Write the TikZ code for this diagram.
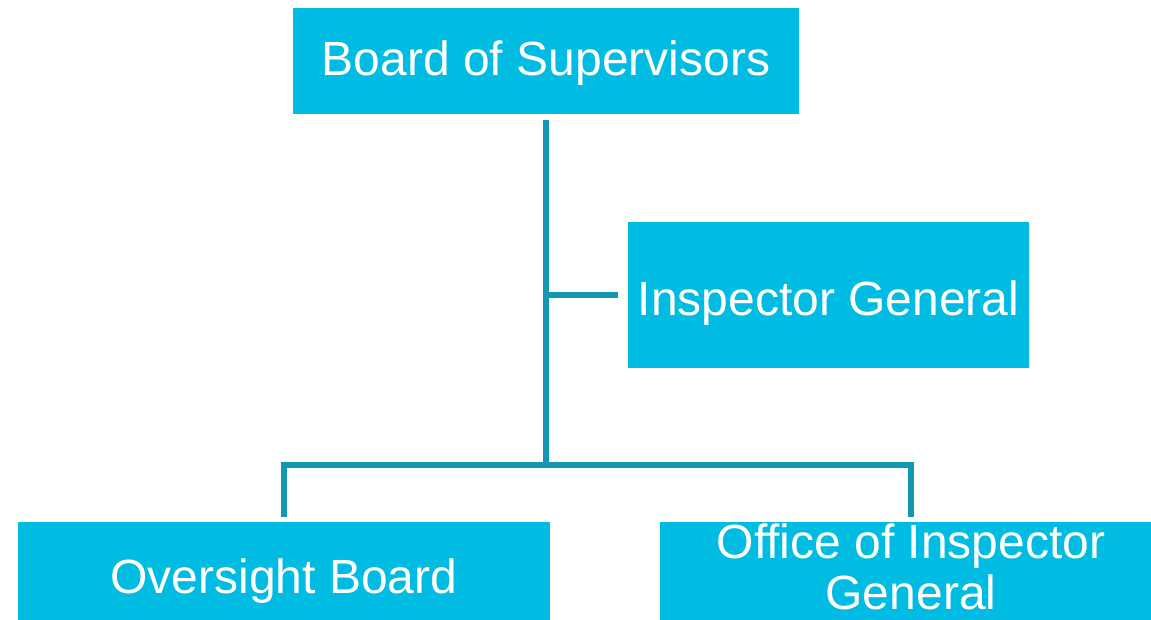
\documentclass[tikz,border=0pt]{standalone}
\usepackage{fontspec}
\setmainfont{Liberation Sans}
\usepackage{xcolor}
\usetikzlibrary{positioning}
\definecolor{boxcyan}{HTML}{00BCE2}
\definecolor{linkteal}{HTML}{1397B3}

\begin{document}
\begin{tikzpicture}[x=0.75pt,y=-0.75pt,
    unit/.style={fill=boxcyan, text=white, inner sep=0pt, align=center, text depth=8pt,
        font=\fontsize{36}{38}\selectfont},
    link/.style={draw=linkteal, line width=4pt}]
            \useasboundingbox (0,0) rectangle (1151,620);
            \node[unit, minimum width=379.5pt, minimum height=79.5pt, text height=30.5pt] (board) at (546,61) {Board of Supervisors};
            \node[unit, minimum width=300.75pt, minimum height=109.5pt, text height=38pt] (ig) at (828.5,295) {Inspector General};
            \node[unit, minimum width=399pt, minimum height=82.5pt, text height=32pt] (oversight) at (284,577) {Oversight Board};
            \node[unit, minimum width=376.5pt, minimum height=82.5pt] (oig) at (911,577) {};
            \node[text=white, inner sep=0pt, align=center, font=\fontsize{36}{38}\selectfont] (oigtext) at (911,567) {Office of Inspector\\General};
            \coordinate (hub) at (546,465);
            \coordinate (igtap) at (546,295);
            \draw[link] ([yshift=-4.5pt]board.south) -- (hub);
            \draw[link] (igtap) -- ([xshift=-7.5pt]ig.west);
            \draw[link] ([yshift=3.75pt]oversight.north) |- (hub) -| ([yshift=3.75pt]oig.north);
        \end{tikzpicture}
\end{document}
